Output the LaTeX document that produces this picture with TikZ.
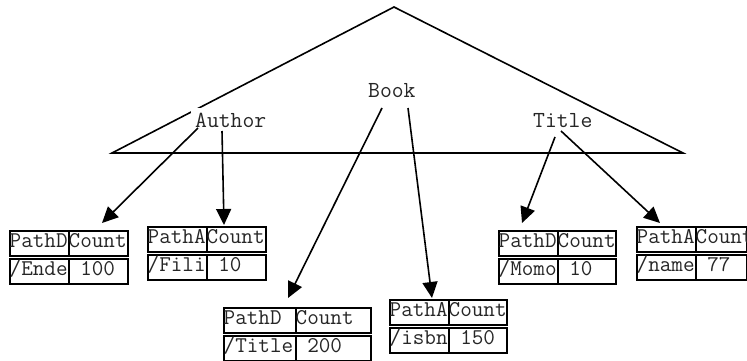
\documentclass[tikz,border=0pt]{standalone}
\usepackage{fontspec}
\usetikzlibrary{arrows.meta,calc}
\newcommand{\tabfont}{\fontsize{22.5}{25}\selectfont\ttfamily}
\newcommand{\lblfont}{\fontsize{23}{26}\selectfont\ttfamily}
\colorlet{txt}{black!85}
\tikzset{
  cellbox/.style={draw, line width=1.8pt, inner sep=0pt, minimum height=25pt, anchor=north west},
  celltext/.style={inner sep=0pt, anchor=base west, font=\tabfont, text=txt},
  lbl/.style={fill=white, font=\lblfont, text=txt, inner sep=0pt, anchor=base west, text height=15pt, text depth=4pt},
  tri/.style={line width=1.6pt, line join=miter},
  arr/.style={line width=1.6pt, -{Triangle[length=16pt,width=15pt]}},
}
% #1 name, #2 xl, #3 xd, #4 xr, #5 ytop, #6 #7 header texts, #8 #9 value texts
\newcommand{\mktable}[9]{%
  \pgfmathsetmacro\wa{#3-#2}\pgfmathsetmacro\wb{#4-#3}%
  \node[cellbox, minimum width=\wa pt] (#1) at (#2,#5) {};
  \node[cellbox, minimum width=\wb pt] (#1hr) at (#3,#5) {};
  \node[cellbox, minimum width=\wa pt] (#1vl) at (#2,#5+28) {};
  \node[cellbox, minimum width=\wb pt] (#1vr) at (#3,#5+28) {};
  \node[celltext] (#1a) at ($(#1.north west)+(0.5,17.5)$) {#6};
  \node[celltext] (#1b) at ($(#1hr.north west)+(0.5,17.5)$) {#7};
  \node[celltext] (#1c) at ($(#1vl.north west)+(0.5,17.5)$) {#8};
  \node[celltext] (#1d) at ($(#1vr.north west)+(0.5,17.5)$) {#9};
}
\begin{document}
\begin{tikzpicture}[x=1pt,y=-1pt]
\useasboundingbox (0,0) rectangle (747,361);
% triangle
\draw[tri] (112,153) -- (394,7) -- (683,153) -- cycle;
% labels
\node[lbl, inner xsep=4pt, inner ysep=4pt] (author) at (191,127) {Author};
\node[lbl, inner xsep=2pt, inner ysep=1pt] (title) at (531,127) {Title\hspace{11pt}};
\node[lbl, inner xsep=1pt, inner ysep=1pt] (book) at (367,97) {Book};
% tables
\mktable{t1}{9}{68}{127}{230}{PathD}{Count}{/Ende}{\hphantom{0}100}
\mktable{t2}{147}{206}{265}{226}{PathA}{Count}{/Fili}{\hphantom{0}10}
\mktable{t3}{223}{295}{370}{307}{PathD}{Count}{/Title}{\hphantom{0}200}
\mktable{t4}{389}{448}{506}{299}{PathA}{Count}{/isbn}{\hphantom{0}150}
\mktable{t5}{498}{557}{615}{230}{PathD}{Count}{/Momo}{\hphantom{0}10}
\mktable{t6}{636}{695}{746}{226}{PathA}{Count}{/name}{\hphantom{0}77}
% arrows
\draw[arr] ($(author.base west)+(7,1)$) -- ($(t1.north west)+(93,-7)$);
\draw[arr] ($(author.base west)+(31,4)$) -- ($(t2.north west)+(77,-1)$);
\draw[arr] ($(book.base west)+(15,11)$) -- ($(t3.north west)+(65,-9)$);
\draw[arr] ($(book.base west)+(41,11)$) -- ($(t4.north west)+(43,-1)$);
\draw[arr] ($(title.base west)+(24,10)$) -- ($(t5.north west)+(24,-7)$);
\draw[arr] ($(title.base west)+(30,4)$) -- ($(t6.north west)+(24,-3)$);
\end{tikzpicture}
\end{document}
